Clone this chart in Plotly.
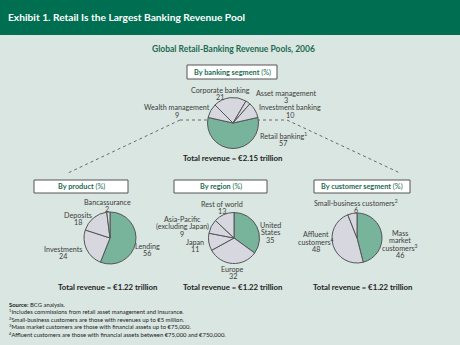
import plotly.graph_objects as go

W, H = 460, 345

# ---------------- data ----------------
segment_labels = ["Retail banking<sup>1</sup>", "Wealth management", "Corporate banking",
                  "Asset management", "Investment banking"]
segment_values = [57, 9, 21, 3, 10]

product_labels = ["Lending", "Investments", "Deposits", "Bancassurance"]
product_values = [56, 24, 18, 2]

region_labels = ["United<br>States", "Europe", "Japan",
                 "Asia-Pacific<br>(excluding Japan)", "Rest of world"]
region_values = [35, 32, 11, 9, 13]

customer_labels = ["Mass<br>market<br>customers<sup>3</sup>", "Affluent<br>customers<sup>4</sup>",
                   "Small-business customers<sup>2</sup>"]
customer_values = [46, 48, 6]

totals = ["Total revenue = €2.15 trillion", "Total revenue = €1.22 trillion",
          "Total revenue = €1.22 trillion", "Total revenue = €1.22 trillion"]

footnotes = [
    "<b>Source:</b> BCG analysis.",
    "<sup>1</sup>Includes commissions from retail asset management and insurance.",
    "<sup>2</sup>Small-business customers are those with revenues up to €5 million.",
    "<sup>3</sup>Mass market customers are those with financial assets up to €75,000.",
    "<sup>4</sup>Affluent customers are those with financial assets between €75,000 and €750,000.",
]

# ---------------- style ----------------
FONT = "Lato"
GREEN_DARK = "#006e50"
BG = "#d9e6e1"
SLICE_GREEN = "#78b39b"
SLICE_GRAY = "#d7d8df"
EDGE = "#555555"
TXT = "#3d3d3d"
BOXTXT = "#1c6b50"


def px(x):
    return x / W


def py(y):
    return 1 - y / H


fig = go.Figure()


def add_pie(labels, values, cx, cy, r, rotation):
    colors = [SLICE_GREEN] + [SLICE_GRAY] * (len(values) - 1)
    fig.add_trace(go.Pie(
        labels=labels, values=values, sort=False, direction="clockwise",
        rotation=rotation, textinfo="none", hoverinfo="label+value",
        marker=dict(colors=colors, line=dict(color=EDGE, width=1)),
        domain=dict(x=[px(cx - r), px(cx + r)], y=[py(cy + r), py(cy - r)]),
        showlegend=False,
    ))


add_pie(segment_labels, segment_values, 233, 123, 25.5, 77.4)
add_pie(product_labels, product_values, 110, 238, 26, 0)
add_pie(region_labels, region_values, 234, 238, 25.5, 0)
add_pie(customer_labels, customer_values, 357, 238, 25, 0)

ann = []


def text(x, y, s, size=7.2, color=TXT, bold=False, xanchor="center"):
    ann.append(dict(x=px(x), y=py(y), xref="paper", yref="paper", text=(f"<b>{s}</b>" if bold else s),
                    showarrow=False, xanchor=xanchor, yanchor="middle", borderpad=0,
                    font=dict(family=FONT, size=size, color=color)))


def label(lbl, val, x, y0, step=7.6):
    lines = lbl.split("<br>") + [str(val)]
    for i, ln in enumerate(lines):
        text(x, y0 + i * step, ln)


# label positions (center x, first-line y)
seg_pos = [(283, 136), (177, 108), (220, 90), (286, 93), (290, 108)]
prod_pos = [(147, 246), (63, 249), (78, 215), (107, 202)]
reg_pos = [(270, 225), (233, 269), (195, 242), (182, 219), (222, 204)]
cust_pos = [(400, 233), (316, 234), (356, 203)]

for lbls, vals, pos in [(segment_labels, segment_values, seg_pos),
                        (product_labels, product_values, prod_pos),
                        (region_labels, region_values, reg_pos),
                        (customer_labels, customer_values, cust_pos)]:
    for l, v, (x, y) in zip(lbls, vals, pos):
        label(l, v, x, y)

for t, (x, y) in zip(totals, [(233, 158), (107, 287), (233, 287), (362, 287)]):
    text(x, y, t, size=7.8, color="#222222", bold=True)

# title and subtitle
text(7, 17, "Exhibit 1. Retail Is the Largest Banking Revenue Pool", size=10.2, color="white",
     bold=True, xanchor="left")
text(233.5, 49, "Global Retail-Banking Revenue Pools, 2006", size=8.5, color=BOXTXT, bold=True)

# boxes
shapes = []
boxes = [("By banking segment", 187, 65, 277, 79),
         ("By product", 34, 180, 128, 193),
         ("By region", 174, 180, 267, 193),
         ("By customer segment", 314, 180, 410, 193)]
for t, x0, y0, x1, y1 in boxes:
    shapes.append(dict(type="rect", xref="paper", yref="paper", x0=px(x0), x1=px(x1),
                       y0=py(y1), y1=py(y0), fillcolor="white", line=dict(color=EDGE, width=1),
                       layer="below"))
    text((x0 + x1) / 2, (y0 + y1) / 2, f"<b>{t}</b> (%)", size=7.3, color=BOXTXT)

# header band
shapes.append(dict(type="rect", xref="paper", yref="paper", x0=0, x1=1, y0=py(35), y1=1,
                   fillcolor=GREEN_DARK, line=dict(width=0), layer="below"))

# dashed connector lines
dash = dict(color="#6a6a6a", width=1, dash="dot")
for (x0, y0, x1, y1) in [(180, 120, 209, 120), (180, 120, 68, 173),
                         (257, 120, 287, 120), (287, 120, 400, 173)]:
    shapes.append(dict(type="line", xref="paper", yref="paper", x0=px(x0), y0=py(y0),
                       x1=px(x1), y1=py(y1), line=dash, layer="below"))

# footnotes
for i, f in enumerate(footnotes):
    text(8, 304 + i * 7.6, f, size=5.9, color="#222222", xanchor="left")

fig.update_layout(
    width=W, height=H, margin=dict(l=0, r=0, t=0, b=0),
    paper_bgcolor=BG, plot_bgcolor=BG,
    annotations=ann, shapes=shapes,
    xaxis=dict(visible=False), yaxis=dict(visible=False),
)

fig.write_html("out.html", config={"displayModeBar": False})
